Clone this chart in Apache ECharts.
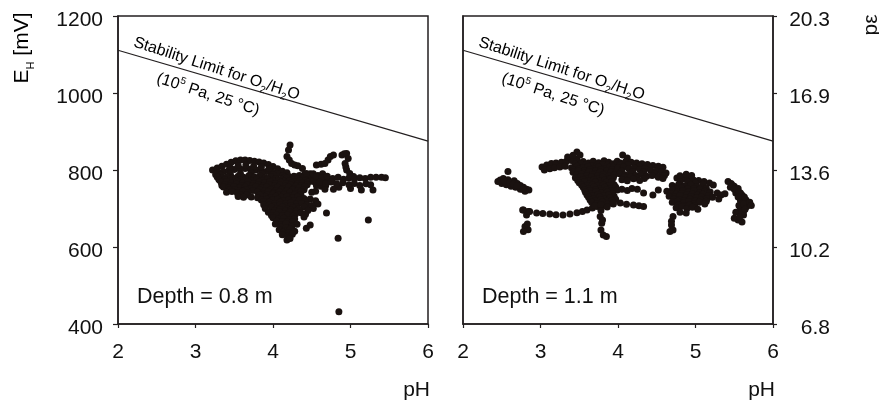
<!DOCTYPE html>
<html>
<head>
<meta charset="utf-8">
<script src="https://cdn.jsdelivr.net/npm/echarts@6/dist/echarts.min.js"></script>
<style>
  html, body { margin: 0; padding: 0; background: #ffffff; }
  #chart { width: 879px; height: 403px; }
</style>
</head>
<body>
<div id="chart"></div>
<script>
// Redox potential (E_H, mV) against pH, measured at two depths.

// pH axis ticks and E_H axis ticks (shared by both panels)
const phMin = 2, phMax = 6, phStep = 1;
const ehMin = 400, ehMax = 1200, ehStep = 200;
// pe labels shown on the right-hand axis at the E_H ticks 400..1200
const peTickLabels = ['6.8', '10.2', '13.6', '16.9', '20.3'];

// O2/H2O stability limit (10^5 Pa, 25 °C): end points of the line
const limitPH = [2, 6];
const limitEH = [1111, 875];

// Measurements at 0.8 m depth: [pH, E_H mV]
const depth08Points = [
  // upper streaks
  [3.22,800],[3.28,805],[3.34,810],[3.40,815],[3.46,820],[3.52,824],[3.58,826],[3.64,826],[3.70,825],[3.76,823],
  [3.82,821],[3.88,818],[3.94,814],[4.00,809],[4.06,803],[4.12,797],[4.18,793],
  [3.30,793],[3.36,796],[3.43,799],[3.50,801],[3.57,803],[3.64,804],[3.71,802],[3.78,800],[3.85,798],[3.92,796],
  [3.99,794],[4.06,790],[4.13,786],[4.20,784],[4.27,784],[4.34,786],[4.41,789],[4.48,790],
  [3.26,788],[3.30,776],[3.34,760],
  [3.45,806],[3.55,812],[3.65,813],[3.75,810],[3.85,808],[3.95,804],
  // core
  [3.32,787],[3.45,789],[3.58,790],[3.72,792],[3.86,790],[4.00,788],[4.15,781],[4.30,782],[4.45,783],
  [3.28,782],[3.35,780],[3.41,783],[3.48,779],[3.55,784],[3.62,781],[3.69,786],[3.76,782],[3.83,785],[3.90,780],
  [3.97,783],[4.04,778],[4.11,776],[4.18,779],[4.25,774],[4.32,777],[4.39,780],[4.46,776],[4.53,779],[4.60,782],
  [3.31,774],[3.38,775],[3.45,773],[3.52,776],[3.58,774],[3.65,776],[3.72,773],[3.79,776],[3.86,773],[3.93,776],
  [4.00,772],[4.07,773],[4.14,771],[4.21,772],[4.28,770],[4.35,772],[4.42,773],[4.49,772],
  [3.33,768],[3.40,770],[3.47,766],[3.54,771],[3.61,767],[3.68,770],[3.75,765],[3.82,769],[3.89,766],[3.96,770],
  [4.03,765],[4.10,768],[4.17,764],[4.24,767],[4.31,763],[4.38,766],[4.45,768],[4.52,770],
  [3.38,762],[3.46,760],[3.53,763],[3.60,760],[3.67,762],[3.74,759],[3.81,762],[3.88,759],[3.95,762],[4.02,759],
  [4.09,761],[4.16,758],[4.23,761],[4.30,758],[4.37,760],[4.44,762],
  [3.36,756],[3.43,753],[3.50,757],[3.57,754],[3.64,756],[3.71,752],[3.78,757],[3.85,753],[3.92,756],[3.99,751],
  [4.06,755],[4.13,752],[4.20,756],[4.27,751],[4.34,754],[4.41,757],
  [3.44,748],[3.51,749],[3.58,747],[3.65,749],[3.74,747],[3.83,749],[3.90,747],[3.97,749],[4.04,747],[4.11,749],
  [4.18,746],[4.25,748],[4.32,747],[4.40,749],
  [3.40,742],[3.47,744],[3.54,740],[3.61,745],[3.68,741],[3.80,743],[3.87,739],[3.94,744],[4.01,740],[4.08,743],
  [4.15,738],[4.22,742],[4.29,739],[4.36,744],
  [3.58,736],[3.66,735],[3.85,736],[3.93,735],[4.00,737],[4.07,735],[4.14,736],[4.21,734],[4.28,735],[4.36,736],
  [3.55,731],[3.62,729],[3.72,730],[3.90,731],[3.97,728],[4.04,732],[4.11,729],[4.18,731],[4.25,727],[4.32,730],[4.40,726],
  // right part of the body
  [4.52,790],[4.58,786],[4.64,790],[4.60,774],[4.66,772],[4.72,775],[4.56,760],[4.62,758],[4.68,760],
  [4.55,745],[4.67,750],[4.78,750],[4.85,755],[5.00,752],[5.14,748],[5.29,748],
  // lower lobe
  [3.83,735],[3.80,728],[3.85,722],[4.48,725],[4.55,720],[4.58,712],
  [3.92,724],[3.99,722],[4.06,724],[4.13,721],[4.20,723],[4.27,720],[4.34,722],[4.41,719],
  [3.88,718],[3.95,716],[4.02,713],[4.09,716],[4.16,712],[4.23,715],[4.30,711],[4.37,713],[4.44,710],[4.50,708],
  [3.88,710],[3.95,709],[4.02,707],[4.09,709],[4.16,706],[4.23,708],[4.30,705],[4.40,704],
  [3.90,700],[3.98,703],[4.05,700],[4.12,704],[4.19,699],[4.26,702],[4.33,698],[4.52,700],[4.45,695],
  [4.02,695],[4.09,697],[4.16,694],[4.23,696],[4.30,693],
  [3.94,690],[4.01,688],[4.08,692],[4.15,687],[4.22,690],[4.29,686],[4.36,689],[4.42,685],
  [3.98,682],[4.05,683],[4.12,681],[4.19,683],[4.26,680],[4.40,678],
  [4.00,676],[4.07,672],[4.14,675],[4.21,670],[4.28,673],
  [4.05,667],[4.12,666],[4.19,665],[4.26,666],
  [4.03,660],[4.10,657],[4.17,661],[4.24,656],[4.31,659],
  [4.10,651],[4.17,650],[4.24,651],
  [4.08,645],[4.15,642],[4.22,646],[4.28,641],
  [4.13,638],[4.20,637],
  [4.12,632],[4.19,628],[4.25,633],[4.18,618],[4.20,624],[4.22,622],
  // scattered readings
  [4.43,649],[4.48,657],[4.69,688],[4.84,623],[5.23,670],[4.85,432],
  // rising trace above the core
  [4.22,865],[4.20,852],[4.18,835],[4.21,826],[4.24,817],[4.28,813],[4.32,811],[4.38,804],[4.43,791],
  [4.56,813],[4.62,815],[4.67,817],[4.71,826],[4.74,835],[4.78,839],
  [4.89,839],[4.92,842],[4.95,843],[4.97,830],[4.93,817],[4.94,808],[4.95,800],[4.99,791],[5.04,783],
  // tail towards higher pH
  [4.56,783],[4.63,780],[4.70,784],[4.77,778],[4.84,781],[4.91,776],[4.98,779],[5.05,777],[5.12,780],[5.19,778],
  [5.26,781],[5.33,781],[5.40,781],[5.45,780],
  [4.60,768],[4.68,765],[4.75,769],[4.82,764],[4.90,767],[4.98,762],[5.05,765],[5.12,760],[5.20,764],[5.26,762],
  [4.50,742]
];

// Measurements at 1.1 m depth: [pH, E_H mV]
const depth11Points = [
  // low-pH group
  [2.48,774],[2.52,778],[2.55,770],[2.58,775],[2.62,768],[2.66,772],[2.70,765],[2.74,760],[2.78,755],[2.82,750],
  [2.85,748],[2.50,765],[2.56,762],[2.62,758],[2.68,755],[2.74,750],[2.80,745],[2.58,796],[2.45,770],
  [2.53,772],[2.60,766],[2.65,764],[2.72,758],[2.77,750],[2.70,760],
  [2.78,696],[2.84,692],[2.82,683],[2.80,653],[2.84,645],[2.78,640],[2.83,660],
  // lower trace
  [2.77,696],[2.86,692],[2.95,688],[3.03,687],[3.12,686],[3.20,684],[3.29,683],[3.38,686],[3.47,689],[3.54,692],
  [3.60,696],[3.67,701],[3.73,705],[3.79,707],[3.85,709],[3.94,712],[4.03,714],[4.11,711],[4.20,709],[4.27,707],[4.33,705],
  // central group, upper part
  [3.02,808],[3.08,813],[3.14,817],[3.20,818],[3.27,820],[3.33,822],[3.40,825],[3.47,828],[3.35,834],[3.47,847],
  [3.51,839],[3.42,838],[3.05,800],[3.12,803],[3.18,806],[3.25,808],[3.32,810],
  [3.55,822],[3.62,818],[3.68,823],[3.75,819],[3.82,824],[3.88,820],
  [3.45,815],[3.52,816],[3.59,814],[3.66,812],[3.73,813],[3.80,814],[3.87,813],[3.94,816],
  [3.40,806],[3.47,810],[3.54,805],[3.61,809],[3.68,804],[3.75,808],[3.82,803],[3.89,807],[3.95,810],
  [3.43,800],[3.50,802],[3.57,799],[3.64,801],[3.71,798],[3.78,801],[3.85,797],[3.92,801],
  [3.42,794],[3.49,797],[3.56,792],[3.63,796],[3.70,791],[3.77,795],[3.84,790],[3.91,794],[3.98,797],
  [3.46,787],[3.53,789],[3.60,786],[3.67,788],[3.74,785],[3.81,788],[3.88,784],[3.95,787],
  [3.45,780],[3.52,783],[3.59,778],[3.66,782],[3.73,777],[3.80,781],[3.87,776],[3.94,780],
  [3.48,773],[3.55,775],[3.62,772],[3.69,775],[3.76,771],[3.83,774],[3.90,776],
  [3.50,767],[3.57,770],[3.64,765],[3.71,769],[3.78,764],[3.85,768],[3.92,770],
  // central group, lower part
  [3.53,761],[3.60,760],[3.67,762],[3.74,759],[3.81,761],[3.88,759],[3.95,762],
  [3.55,755],[3.62,752],[3.69,756],[3.76,751],[3.83,755],[3.90,752],[3.97,756],
  [3.57,748],[3.64,747],[3.71,749],[3.78,746],[3.85,749],[3.92,746],[3.99,748],
  [3.58,742],[3.65,739],[3.72,744],[3.79,740],[3.86,743],[3.93,739],
  [3.60,735],[3.67,733],[3.74,736],[3.81,733],[3.88,735],[3.95,732],
  [3.62,729],[3.69,726],[3.76,730],[3.83,725],[3.90,728],[3.97,724],
  [3.64,722],[3.71,720],[3.78,723],[3.85,719],[3.92,721],
  [3.66,716],[3.73,713],[3.80,717],[3.87,712],[3.94,715],
  [3.70,708],[3.78,710],[3.86,704],
  [3.77,679],[3.79,662],[3.78,644],[3.81,631],[3.85,627],[3.78,695],[3.80,670],
  [4.05,750],[4.12,747],[4.18,752],[4.25,750],[4.33,740],[4.45,735],[4.52,748],
  // upper right of the central group
  [3.99,823],[4.06,839],[4.12,831],[4.03,818],[4.10,822],[4.17,820],[4.24,818],[4.31,816],[4.38,814],[4.45,812],
  [4.52,810],[4.58,807],
  [4.03,813],[4.13,814],[4.27,810],[4.40,806],[4.53,803],
  [4.00,805],[4.07,808],[4.14,803],[4.21,806],[4.28,801],[4.35,804],[4.42,799],[4.49,797],[4.56,795],[4.62,792],
  [4.05,797],[4.19,796],[4.33,795],[4.47,790],[4.60,786],
  [4.02,790],[4.09,787],[4.16,791],[4.23,786],[4.30,789],[4.37,784],[4.44,786],[4.52,781],[4.58,778],
  [4.08,781],[4.16,782],[4.24,780],[4.34,778],
  [4.05,775],[4.12,772],[4.20,777],[4.28,773],
  // group near pH 5
  [4.76,779],[4.83,776],[4.90,778],[4.97,775],[5.04,773],[5.11,770],[5.18,766],[5.23,761],[4.80,785],[4.88,789],[4.95,786],
  [4.80,769],[4.90,768],[5.00,766],[5.10,763],
  [4.70,760],[4.78,762],[4.86,758],[4.94,761],[5.02,757],
  [4.74,752],[4.82,753],[4.90,751],[4.98,752],[5.06,750],[5.14,752],
  [4.63,745],[4.70,748],[4.77,743],[4.84,747],[4.91,742],[4.98,746],[5.05,741],[5.12,745],[5.19,743],
  [4.68,738],[4.75,737],[4.82,739],[4.89,736],[4.96,738],[5.03,735],[5.10,737],[5.17,734],
  [4.66,732],[4.73,729],[4.80,733],[4.87,728],[4.94,731],[5.01,727],[5.08,730],[5.15,726],[5.22,729],
  [4.72,724],[4.79,723],[4.86,721],[4.93,724],[5.00,720],[5.07,722],[5.14,719],
  [4.70,716],[4.77,719],[4.84,714],[4.91,718],[4.98,713],[5.05,716],[5.12,712],
  [4.78,709],[4.85,708],[4.92,709],[4.99,707],
  [4.75,702],[4.82,705],[4.89,700],[4.96,703],[5.03,698],[4.80,690],[4.88,688],
  [4.71,679],[4.69,667],[4.69,657],[4.71,644],[4.67,640],
  [5.28,740],[5.33,735],[5.38,738],[5.30,725],
  // high-pH group
  [5.42,770],[5.46,765],[5.50,758],[5.53,748],[5.58,740],[5.62,727],[5.66,715],[5.66,705],[5.62,693],[5.62,683],
  [5.55,670],[5.50,675],[5.48,760],[5.55,752],[5.60,735],[5.52,740],[5.58,720],[5.65,723],[5.68,710],[5.58,700],
  [5.52,690],[5.60,665],[5.45,755],[5.56,708],
  [5.50,750],[5.56,743],[5.63,730],[5.55,730],[5.62,712],[5.60,688],[5.57,678],[5.64,698],[5.70,716],[5.72,708]
];

const FONT = '"Liberation Sans", Arial, sans-serif';
const INK = '#231f20';
const DOT = '#1a1210';

const chart = echarts.init(document.getElementById('chart'), null, { renderer: 'canvas' });

const panelTop = 16, panelHeight = 308, panelWidth = 310;
const panelLefts = [118, 463];

function xAxisFor(gridIndex) {
  return {
    type: 'value', gridIndex, min: phMin, max: phMax, interval: phStep,
    axisLine: { show: true, onZero: false, lineStyle: { color: INK, width: 1.5 } },
    axisTick: { show: true, length: 4, lineStyle: { color: INK, width: 1.2 } },
    axisLabel: { color: '#111', fontFamily: FONT, fontSize: 21, margin: 18 },
    splitLine: { show: false }
  };
}

const limitLine = limitPH.map((p, i) => [p, limitEH[i]]);

// Value labels on the vertical axes sit a few pixels below their ticks
const yLabelBase = {
  color: '#111', fontFamily: FONT, fontSize: 21,
  verticalAlign: 'top', lineHeight: 8
};

const option = {
  animation: false,
  backgroundColor: '#ffffff',
  grid: panelLefts.map(left => ({
    left, top: panelTop, width: panelWidth, height: panelHeight,
    show: true, borderColor: INK, borderWidth: 1.5, backgroundColor: 'transparent'
  })),
  xAxis: [xAxisFor(0), xAxisFor(1)],
  yAxis: [
    {
      type: 'value', gridIndex: 0, min: ehMin, max: ehMax, interval: ehStep,
      axisLine: { show: true, lineStyle: { color: INK, width: 1.5 } },
      axisTick: { show: true, length: 5, lineStyle: { color: INK, width: 1.2 } },
      axisLabel: Object.assign({}, yLabelBase, { margin: 15, formatter: v => String(v) }),
      splitLine: { show: false }
    },
    {
      type: 'value', gridIndex: 1, min: ehMin, max: ehMax, interval: ehStep,
      axisLine: { show: true, lineStyle: { color: INK, width: 1.5 } },
      axisTick: { show: false }, axisLabel: { show: false },
      splitLine: { show: false }
    },
    {
      type: 'value', gridIndex: 1, position: 'right', min: ehMin, max: ehMax, interval: ehStep,
      axisLine: { show: true, lineStyle: { color: INK, width: 1.5 } },
      axisTick: { show: true, length: 4, lineStyle: { color: INK, width: 1.2 } },
      axisLabel: Object.assign({}, yLabelBase, {
        margin: 15,
        // labels are right-aligned inside a fixed-width box
        formatter: v => '{v|' + peTickLabels[Math.round((v - ehMin) / ehStep)] + '}',
        rich: {
          v: { width: 42, align: 'right', color: '#111', fontFamily: FONT, fontSize: 21, lineHeight: 8 }
        }
      }),
      splitLine: { show: false }
    }
  ],
  series: [
    {
      type: 'line', xAxisIndex: 0, yAxisIndex: 0, data: limitLine,
      symbol: 'none', lineStyle: { color: INK, width: 1.2 }, silent: true
    },
    {
      type: 'line', xAxisIndex: 1, yAxisIndex: 1, data: limitLine,
      symbol: 'none', lineStyle: { color: INK, width: 1.2 }, silent: true
    },
    {
      type: 'scatter', xAxisIndex: 0, yAxisIndex: 0, data: depth08Points,
      symbol: 'circle', symbolSize: 7, itemStyle: { color: DOT, opacity: 1 }, silent: true
    },
    {
      type: 'scatter', xAxisIndex: 1, yAxisIndex: 1, data: depth11Points,
      symbol: 'circle', symbolSize: 7, itemStyle: { color: DOT, opacity: 1 }, silent: true
    }
  ],
  graphic: []
};

// Text annotations
const limitRich = {
  t: { fontFamily: FONT, fontSize: 16, color: '#111' },
  sub: { fontFamily: FONT, fontSize: 10, color: '#111', verticalAlign: 'bottom', padding: [0, 0, -3, 0] },
  sup: { fontFamily: FONT, fontSize: 10, color: '#111', verticalAlign: 'top', padding: [-2, 0, 0, 0] }
};
const limitAngle = -18 * Math.PI / 180;

panelLefts.forEach((left, i) => {
  const dx = left - panelLefts[0];
  option.graphic.push(
    {
      type: 'text', x: 134 + dx, y: 42, rotation: limitAngle,
      style: {
        text: '{t|Stability Limit for O}{sub|2}{t|/H}{sub|2}{t|O}',
        rich: limitRich, textVerticalAlign: 'middle', textAlign: 'left'
      }
    },
    {
      type: 'text', x: 157 + dx, y: 78, rotation: limitAngle,
      style: {
        text: '{t|(10}{sup|5}{t| Pa, 25 °C)}',
        rich: limitRich, textVerticalAlign: 'middle', textAlign: 'left'
      }
    },
    {
      type: 'text', x: 137 + dx, y: 297,
      style: {
        text: i === 0 ? 'Depth = 0.8 m' : 'Depth = 1.1 m',
        fontFamily: FONT, fontSize: 21.5, fill: '#111', textVerticalAlign: 'middle'
      }
    },
    {
      type: 'text', x: left + panelWidth + 2, y: 390,
      style: {
        text: 'pH', fontFamily: FONT, fontSize: 21, fill: '#111',
        textAlign: 'right', textVerticalAlign: 'middle'
      }
    }
  );
});

option.graphic.push(
  {
    type: 'text', x: 22, y: 48, rotation: Math.PI / 2,
    style: {
      text: '{t|E}{s|H}{t| [mV]}',
      rich: {
        t: { fontFamily: FONT, fontSize: 21, color: '#111' },
        s: { fontFamily: FONT, fontSize: 11, color: '#111', verticalAlign: 'bottom', padding: [0, 0, -4, 0] }
      },
      textAlign: 'center', textVerticalAlign: 'middle'
    }
  },
  {
    type: 'text', x: 871, y: 25, rotation: Math.PI / 2,
    style: {
      text: 'pε', fontFamily: FONT, fontSize: 21, fill: '#111',
      textAlign: 'center', textVerticalAlign: 'middle'
    }
  }
);

chart.setOption(option);
</script>
</body>
</html>
